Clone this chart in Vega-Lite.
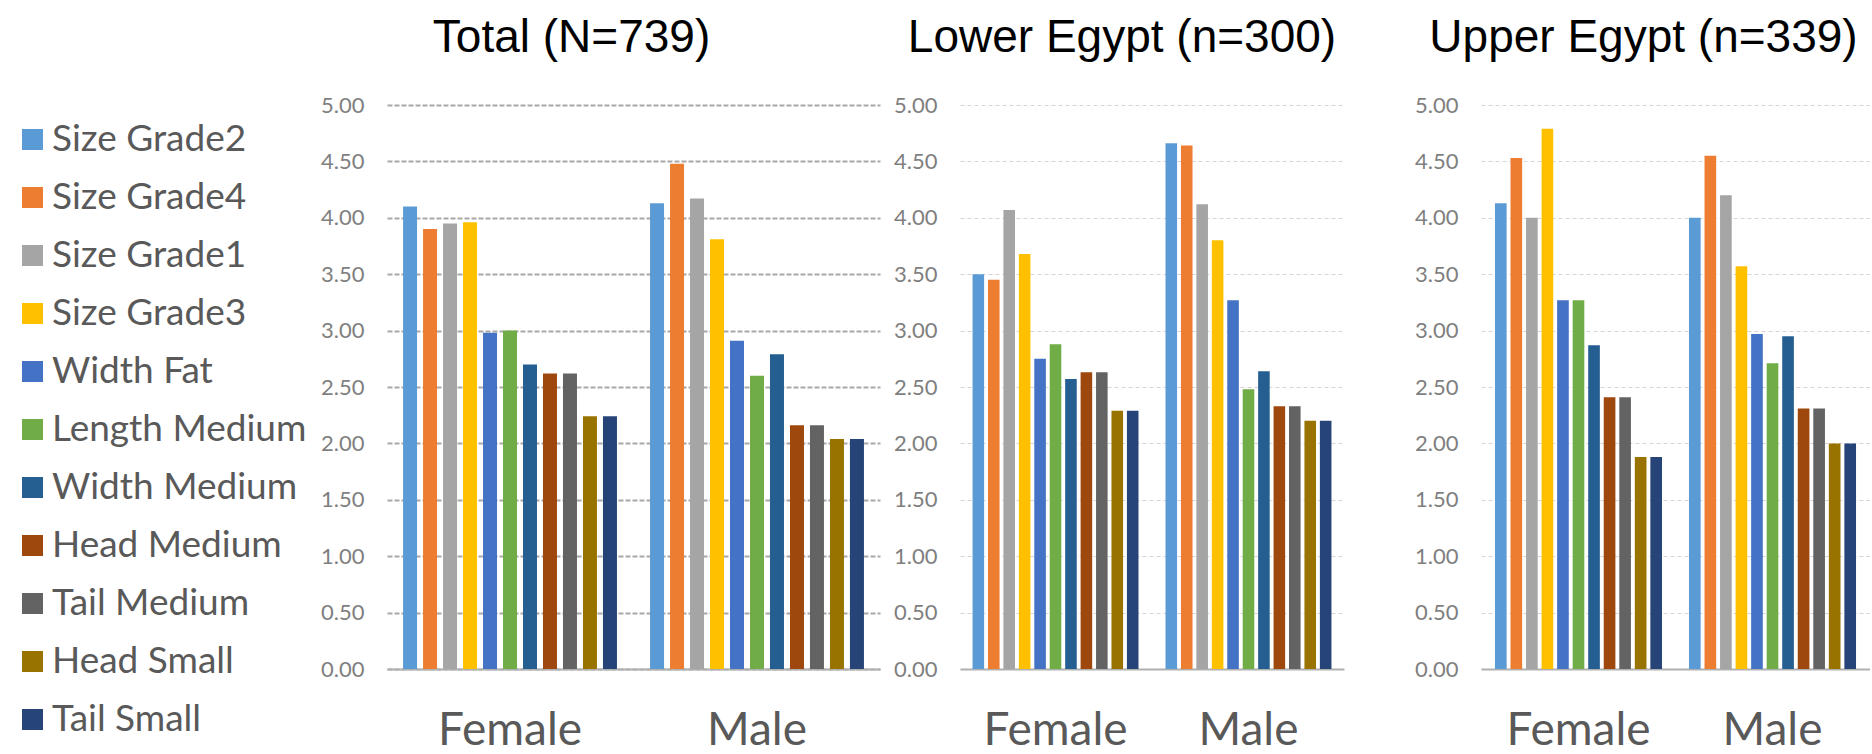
{
  "$schema": "https://vega.github.io/schema/vega-lite/v6.json",
  "padding": {"left": 14, "top": 15, "right": 0, "bottom": 0},
  "background": "white",
  "config": {
    "view": {"stroke": null},
    "title": {"font": "Liberation Sans", "fontSize": 46, "fontWeight": "normal", "color": "#000000", "anchor": "middle", "frame": "group", "offset": 32},
    "axisY": {"labelFont": "Lato", "labelFontSize": 22, "labelColor": "#7f7f7f", "domain": false, "ticks": false, "tickSize": 0, "labelPadding": 23, "title": null, "values": [0, 0.5, 1, 1.5, 2, 2.5, 3, 3.5, 4, 4.5, 5], "format": ".2f"},
    "axisX": {"labelFont": "Lato", "labelFontSize": 46, "labelColor": "#595959", "domain": true, "domainColor": "#b0b0b0", "domainWidth": 2, "ticks": false, "tickSize": 0, "labelPadding": 39, "labelAngle": 0, "title": null, "grid": false},
    "bar": {"stroke": null}
  },
  "datasets": {
    "total": [
      {"sex": "Female", "category": "Size Grade2", "value": 4.10},
      {"sex": "Female", "category": "Size Grade4", "value": 3.90},
      {"sex": "Female", "category": "Size Grade1", "value": 3.95},
      {"sex": "Female", "category": "Size Grade3", "value": 3.96},
      {"sex": "Female", "category": "Width Fat", "value": 2.98},
      {"sex": "Female", "category": "Length Medium", "value": 3.00},
      {"sex": "Female", "category": "Width Medium", "value": 2.70},
      {"sex": "Female", "category": "Head Medium", "value": 2.62},
      {"sex": "Female", "category": "Tail Medium", "value": 2.62},
      {"sex": "Female", "category": "Head Small", "value": 2.24},
      {"sex": "Female", "category": "Tail Small", "value": 2.24},
      {"sex": "Male", "category": "Size Grade2", "value": 4.13},
      {"sex": "Male", "category": "Size Grade4", "value": 4.48},
      {"sex": "Male", "category": "Size Grade1", "value": 4.17},
      {"sex": "Male", "category": "Size Grade3", "value": 3.81},
      {"sex": "Male", "category": "Width Fat", "value": 2.91},
      {"sex": "Male", "category": "Length Medium", "value": 2.60},
      {"sex": "Male", "category": "Width Medium", "value": 2.79},
      {"sex": "Male", "category": "Head Medium", "value": 2.16},
      {"sex": "Male", "category": "Tail Medium", "value": 2.16},
      {"sex": "Male", "category": "Head Small", "value": 2.04},
      {"sex": "Male", "category": "Tail Small", "value": 2.04}
    ],
    "lower": [
      {"sex": "Female", "category": "Size Grade2", "value": 3.50},
      {"sex": "Female", "category": "Size Grade4", "value": 3.45},
      {"sex": "Female", "category": "Size Grade1", "value": 4.07},
      {"sex": "Female", "category": "Size Grade3", "value": 3.68},
      {"sex": "Female", "category": "Width Fat", "value": 2.75},
      {"sex": "Female", "category": "Length Medium", "value": 2.88},
      {"sex": "Female", "category": "Width Medium", "value": 2.57},
      {"sex": "Female", "category": "Head Medium", "value": 2.63},
      {"sex": "Female", "category": "Tail Medium", "value": 2.63},
      {"sex": "Female", "category": "Head Small", "value": 2.29},
      {"sex": "Female", "category": "Tail Small", "value": 2.29},
      {"sex": "Male", "category": "Size Grade2", "value": 4.66},
      {"sex": "Male", "category": "Size Grade4", "value": 4.64},
      {"sex": "Male", "category": "Size Grade1", "value": 4.12},
      {"sex": "Male", "category": "Size Grade3", "value": 3.80},
      {"sex": "Male", "category": "Width Fat", "value": 3.27},
      {"sex": "Male", "category": "Length Medium", "value": 2.48},
      {"sex": "Male", "category": "Width Medium", "value": 2.64},
      {"sex": "Male", "category": "Head Medium", "value": 2.33},
      {"sex": "Male", "category": "Tail Medium", "value": 2.33},
      {"sex": "Male", "category": "Head Small", "value": 2.20},
      {"sex": "Male", "category": "Tail Small", "value": 2.20}
    ],
    "upper": [
      {"sex": "Female", "category": "Size Grade2", "value": 4.13},
      {"sex": "Female", "category": "Size Grade4", "value": 4.53},
      {"sex": "Female", "category": "Size Grade1", "value": 4.00},
      {"sex": "Female", "category": "Size Grade3", "value": 4.79},
      {"sex": "Female", "category": "Width Fat", "value": 3.27},
      {"sex": "Female", "category": "Length Medium", "value": 3.27},
      {"sex": "Female", "category": "Width Medium", "value": 2.87},
      {"sex": "Female", "category": "Head Medium", "value": 2.41},
      {"sex": "Female", "category": "Tail Medium", "value": 2.41},
      {"sex": "Female", "category": "Head Small", "value": 1.88},
      {"sex": "Female", "category": "Tail Small", "value": 1.88},
      {"sex": "Male", "category": "Size Grade2", "value": 4.00},
      {"sex": "Male", "category": "Size Grade4", "value": 4.55},
      {"sex": "Male", "category": "Size Grade1", "value": 4.20},
      {"sex": "Male", "category": "Size Grade3", "value": 3.57},
      {"sex": "Male", "category": "Width Fat", "value": 2.97},
      {"sex": "Male", "category": "Length Medium", "value": 2.71},
      {"sex": "Male", "category": "Width Medium", "value": 2.95},
      {"sex": "Male", "category": "Head Medium", "value": 2.31},
      {"sex": "Male", "category": "Tail Medium", "value": 2.31},
      {"sex": "Male", "category": "Head Small", "value": 2.00},
      {"sex": "Male", "category": "Tail Small", "value": 2.00}
    ]
  },
  "spacing": 70,
  "resolve": {"scale": {"color": "independent", "xOffset": "independent", "x": "independent", "y": "independent"}, "legend": {"color": "independent"}},
  "hconcat": [
    {
      "spacing": 13,
      "resolve": {"scale": {"color": "independent", "xOffset": "independent", "x": "independent", "y": "independent"}, "legend": {"color": "independent"}},
      "hconcat": [
        {
          "width": 493,
          "height": 564,
          "data": {"name": "total"},
          "title": {"text": "Total (N=739)", "dx": -62},
          "mark": {"type": "bar"},
          "encoding": {
            "x": {"field": "sex", "type": "nominal", "sort": ["Female", "Male"], "scale": {"paddingInner": 0.134, "paddingOuter": 0.065}, "title": null},
            "xOffset": {"field": "category", "type": "nominal", "sort": ["Size Grade2", "Size Grade4", "Size Grade1", "Size Grade3", "Width Fat", "Length Medium", "Width Medium", "Head Medium", "Tail Medium", "Head Small", "Tail Small"], "scale": {"paddingInner": 0.3, "paddingOuter": 0}},
            "y": {"field": "value", "type": "quantitative", "scale": {"domain": [0, 5], "nice": false}, "title": null, "axis": {"grid": true, "gridColor": "#a8a8a8", "gridWidth": 2, "gridDash": [5, 2]}},
            "color": {"field": "category", "type": "nominal", "sort": ["Size Grade2", "Size Grade4", "Size Grade1", "Size Grade3", "Width Fat", "Length Medium", "Width Medium", "Head Medium", "Tail Medium", "Head Small", "Tail Small"],
              "scale": {"domain": ["Size Grade2", "Size Grade4", "Size Grade1", "Size Grade3", "Width Fat", "Length Medium", "Width Medium", "Head Medium", "Tail Medium", "Head Small", "Tail Small"], "range": ["#5B9BD5", "#ED7D31", "#A5A5A5", "#FFC000", "#4472C4", "#70AD47", "#255E91", "#9E480E", "#636363", "#997300", "#264478"]},
              "legend": {"orient": "none", "legendX": -373, "legendY": 16, "title": null, "padding": 0, "symbolType": "square", "symbolSize": 441, "symbolStrokeWidth": 0, "symbolOpacity": 1, "labelFont": "Lato", "labelFontSize": 37, "labelColor": "#595959", "labelOffset": 1, "rowPadding": 20, "labelLimit": 400}}
          }
        },
        {
          "width": 384,
          "height": 564,
          "data": {"name": "lower"},
          "title": {"text": "Lower Egypt (n=300)", "dx": -30},
          "mark": {"type": "bar"},
          "encoding": {
            "x": {"field": "sex", "type": "nominal", "sort": ["Female", "Male"], "scale": {"paddingInner": 0.14, "paddingOuter": 0.065}, "title": null},
            "xOffset": {"field": "category", "type": "nominal", "sort": ["Size Grade2", "Size Grade4", "Size Grade1", "Size Grade3", "Width Fat", "Length Medium", "Width Medium", "Head Medium", "Tail Medium", "Head Small", "Tail Small"], "scale": {"paddingInner": 0.25, "paddingOuter": 0}},
            "y": {"field": "value", "type": "quantitative", "scale": {"domain": [0, 5], "nice": false}, "title": null, "axis": {"grid": true, "gridColor": "#d4d4d4", "gridWidth": 1, "gridDash": [4, 3]}},
            "color": {"field": "category", "type": "nominal",
              "scale": {"domain": ["Size Grade2", "Size Grade4", "Size Grade1", "Size Grade3", "Width Fat", "Length Medium", "Width Medium", "Head Medium", "Tail Medium", "Head Small", "Tail Small"], "range": ["#5B9BD5", "#ED7D31", "#A5A5A5", "#FFC000", "#4472C4", "#70AD47", "#255E91", "#9E480E", "#636363", "#997300", "#264478"]},
              "legend": null}
          }
        }
      ]
    },
    {
      "width": 389,
      "height": 564,
      "data": {"name": "upper"},
      "title": {"text": "Upper Egypt (n=339)", "dx": -32},
      "mark": {"type": "bar"},
      "encoding": {
        "x": {"field": "sex", "type": "nominal", "sort": ["Female", "Male"], "scale": {"paddingInner": 0.139, "paddingOuter": 0.072}, "title": null},
        "xOffset": {"field": "category", "type": "nominal", "sort": ["Size Grade2", "Size Grade4", "Size Grade1", "Size Grade3", "Width Fat", "Length Medium", "Width Medium", "Head Medium", "Tail Medium", "Head Small", "Tail Small"], "scale": {"paddingInner": 0.25, "paddingOuter": 0}},
        "y": {"field": "value", "type": "quantitative", "scale": {"domain": [0, 5], "nice": false}, "title": null, "axis": {"grid": true, "gridColor": "#d4d4d4", "gridWidth": 1, "gridDash": [4, 3]}},
        "color": {"field": "category", "type": "nominal",
          "scale": {"domain": ["Size Grade2", "Size Grade4", "Size Grade1", "Size Grade3", "Width Fat", "Length Medium", "Width Medium", "Head Medium", "Tail Medium", "Head Small", "Tail Small"], "range": ["#5B9BD5", "#ED7D31", "#A5A5A5", "#FFC000", "#4472C4", "#70AD47", "#255E91", "#9E480E", "#636363", "#997300", "#264478"]},
          "legend": null}
      }
    }
  ]
}
